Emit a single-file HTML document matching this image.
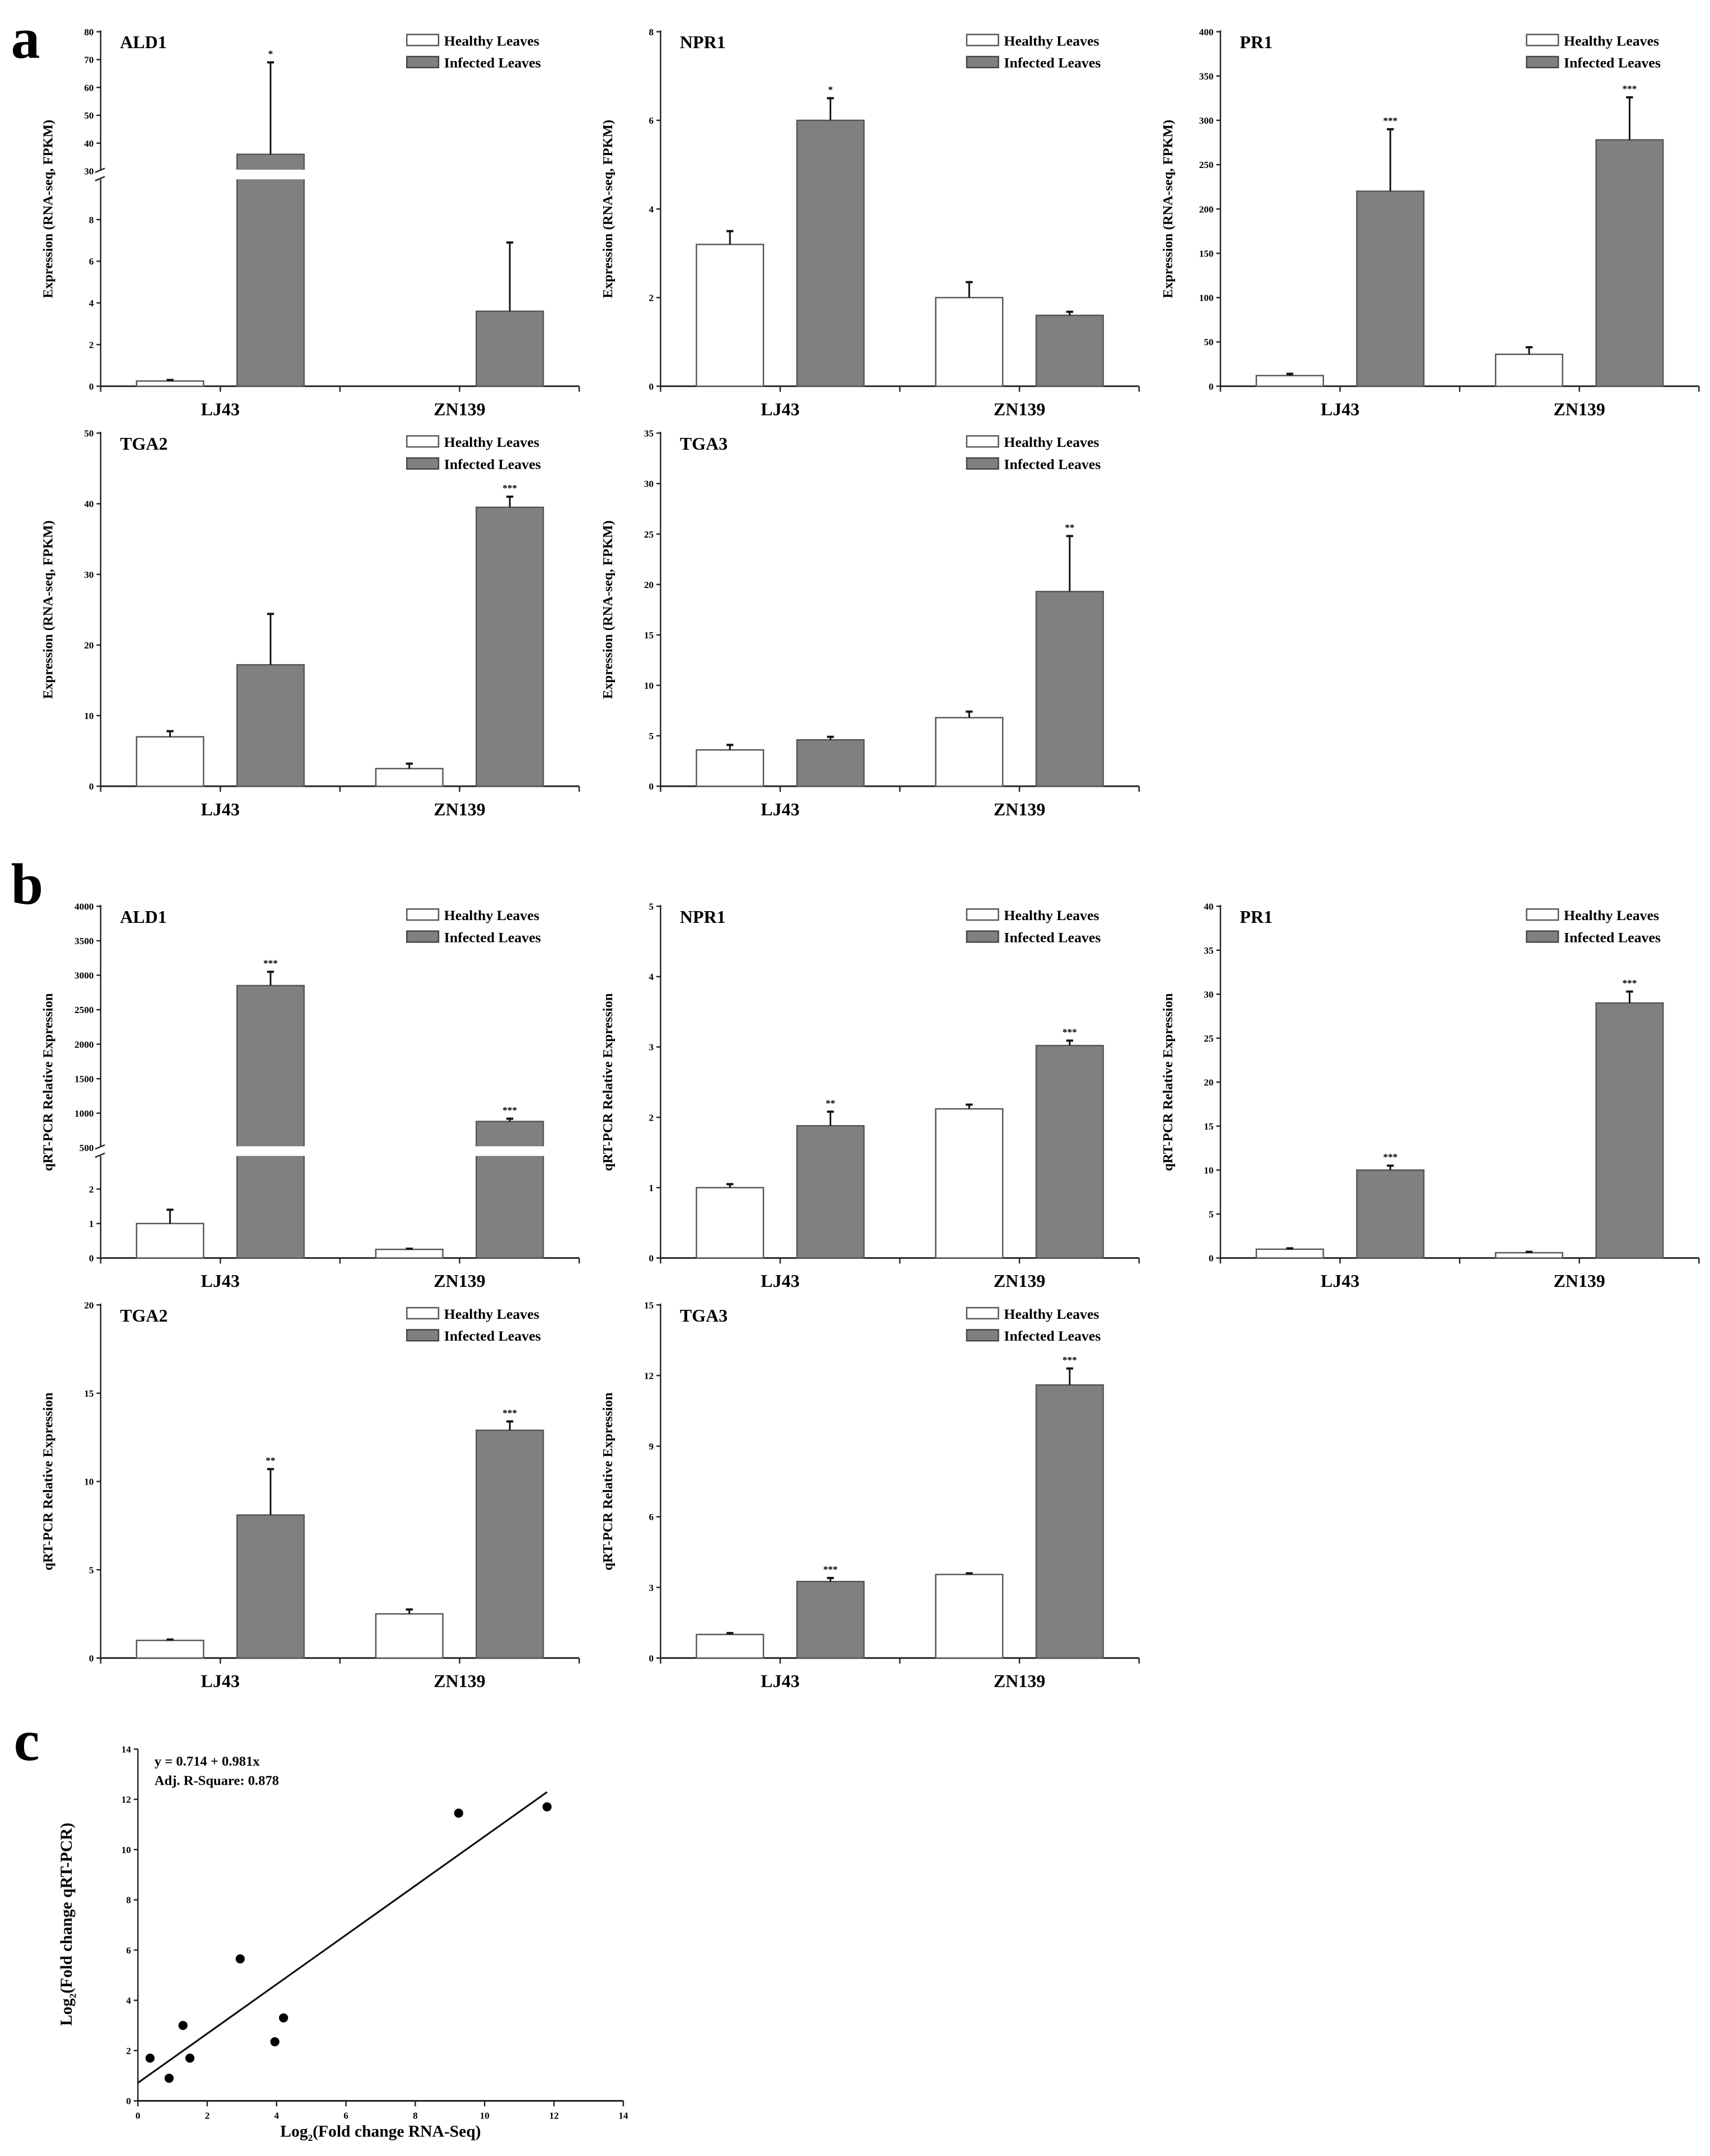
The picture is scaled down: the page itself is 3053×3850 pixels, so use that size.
<!DOCTYPE html>
<html><head><meta charset="utf-8"><style>
html,body{margin:0;padding:0;background:#fff;}
svg{display:block;font-family:"Liberation Serif",serif;font-weight:bold;}
</style></head><body>
<svg id="fig" xmlns="http://www.w3.org/2000/svg" width="3053" height="3850" viewBox="0 0 1240 1563" preserveAspectRatio="none">
<text x="8" y="42" font-size="42">a</text>
<text x="8" y="655" font-size="42">b</text>
<text x="10" y="1276" font-size="42">c</text>
</svg>
<script>
// ---- data ----
const categories = ["LJ43","ZN139"];
const seriesNames = ["Healthy Leaves","Infected Leaves"];
const genes = ["ALD1","NPR1","PR1","TGA2","TGA3"];
// RNA-seq (a)
const aHealthy = [[0.25,0],[3.2,2.0],[12,36],[7,2.5],[3.6,6.8]];
const aHealthyErr = [[0.05,0],[0.3,0.35],[2,8],[0.8,0.7],[0.5,0.6]];
const aInfected = [[36,3.6],[6.0,1.6],[220,278],[17.2,39.5],[4.6,19.3]];
const aInfectedErr = [[33,3.3],[0.5,0.08],[70,48],[7.2,1.5],[0.3,5.5]];
const aStars = [["*",""],["*",""],["***","***"],["","***"],["","**"]];
const aMax = [80,8,400,50,35];
const aStep = [10,2,50,10,5];
// qRT-PCR (b)
const bHealthy = [[1.0,0.25],[1.0,2.12],[1.0,0.6],[1.0,2.5],[1.0,3.55]];
const bHealthyErr = [[0.4,0.02],[0.05,0.06],[0.1,0.1],[0.05,0.25],[0.06,0.05]];
const bInfected = [[2850,880],[1.88,3.02],[10,29],[8.1,12.9],[3.25,11.6]];
const bInfectedErr = [[200,40],[0.2,0.07],[0.5,1.3],[2.6,0.5],[0.15,0.7]];
const bStars = [["***","***"],["**","***"],["***","***"],["**","***"],["***","***"]];
const bMax = [4000,5,40,20,15];
const bStep = [500,1,5,5,3];
// correlation (c)
const cX = [0.35,0.9,1.3,1.5,2.95,3.95,4.2,9.25,11.8];
const cY = [1.7,0.9,3.0,1.7,5.65,2.35,3.3,11.45,11.7];
const fitIntercept = 0.714, fitSlope = 0.981;
const cTicks = [0,2,4,6,8,10,12,14];

const NS="http://www.w3.org/2000/svg";
const svg=document.getElementById('fig');
function mk(tag,attrs,parent){const e=document.createElementNS(NS,tag);for(const k in attrs)e.setAttribute(k,attrs[k]);(parent||svg).appendChild(e);return e;}
function txt(x,y,s,size,attrs,parent){const t=mk('text',Object.assign({x:x,y:y,'font-size':size},attrs||{}),parent);t.textContent=s;return t;}

const W=347;
function panel(ax,top,zero,gene,gi,H,He,I,Ie,St,max,step,ylabel,brk){
  const g=mk('g',{});
  
  
  let y;
  if(brk){
    y=v=>v<=brk.lowMax? zero-(zero-brk.lowTop)*v/brk.lowMax : brk.upBot-(brk.upBot-top)*(v-brk.upMin)/(max-brk.upMin);
  } else y=v=>zero-(zero-top)*v/max;
  mk('line',{x1:ax,y1:top-1,x2:ax,y2:zero,stroke:'#222','stroke-width':1},g);
  mk('line',{x1:ax,y1:zero,x2:ax+W,y2:zero,stroke:'#222','stroke-width':1.2},g);
  [0,0.25,0.5,0.75,1].forEach(f=>mk('line',{x1:ax+W*f,y1:zero,x2:ax+W*f,y2:zero+4,stroke:'#222','stroke-width':1},g));
  let ticks=[];
  if(brk){for(let v=0;v<=brk.lowTickMax;v+=brk.lowStep)ticks.push(v);for(let v=brk.upMin;v<=max+1e-9;v+=step)ticks.push(v);}
  else for(let v=0;v<=max+1e-9;v+=step)ticks.push(v);
  ticks.forEach(v=>{const yy=y(v);mk('line',{x1:ax-3,y1:yy,x2:ax,y2:yy,stroke:'#222','stroke-width':1},g);
    const t=txt(ax-5,yy+2.5,String(v),7,{'text-anchor':'end'},g);
    });
  if(brk){
    mk('rect',{x:ax-3,y:brk.upBot-1,width:6,height:brk.lowTop-brk.upBot+2,fill:'#fff'},g);
    mk('line',{x1:ax-4,y1:brk.upBot+1,x2:ax+3,y2:brk.upBot-2,stroke:'#222'},g);
    mk('line',{x1:ax-4,y1:brk.lowTop+2,x2:ax+3,y2:brk.lowTop-1,stroke:'#222'},g);}
  const yl=txt(0,0,ylabel,10,{'text-anchor':'middle',transform:`translate(${ax-35},${(top+zero)/2}) rotate(-90)`},g);
  
  const tt=txt(ax+14,top+12,gene,13,{},g);
  
  categories.forEach((c,ci)=>{
    const cx=ax+W*(ci===0?0.25:0.75);
    [[H,He,'#fff',-0.105],[I,Ie,'#808080',0.105]].forEach((s,si)=>{
      const v=s[0][gi][ci], e=s[1][gi][ci];
      const bx=cx+W*s[3]-W*0.07, bw=W*0.14;
      if(v>0){const r=mk('rect',{x:bx,y:y(v),width:bw,height:zero-y(v),fill:s[2],stroke:'#555','stroke-width':1},g);
        
        
        if(brk && v>brk.lowMax) mk('rect',{x:bx-1,y:brk.upBot-1,width:bw+2,height:brk.lowTop-brk.upBot+2,fill:'#fff'},g);
        if(e>0){const mx=bx+bw/2;mk('line',{x1:mx,y1:y(v),x2:mx,y2:y(v+e),stroke:'#111','stroke-width':1.2},g);
          mk('line',{x1:mx-2.5,y1:y(v+e),x2:mx+2.5,y2:y(v+e),stroke:'#111','stroke-width':1.6},g);}
        if(si===1&&St[gi][ci]){const st=txt(bx+bw/2,y(v+e)-4,St[gi][ci],7,{'text-anchor':'middle'},g);
          }
      }
    });
    const xl=txt(cx,zero+21,c,13,{'text-anchor':'middle'},g);
    
  });
  const lg=mk('g',{},g);
  
  mk('rect',{x:ax+222,y:top+2,width:23,height:8,fill:'#fff',stroke:'#555'},lg);
  mk('rect',{x:ax+222,y:top+18,width:23,height:8,fill:'#808080',stroke:'#444'},lg);
  txt(ax+249,top+10,seriesNames[0],10.5,{},lg);
  txt(ax+249,top+26,seriesNames[1],10.5,{},lg);
}
const xs=[73,479,885,73,479];
const aRow=[[23,280],[23,280],[23,280],[314,570],[314,570]];
const bRow=[[657,912],[657,912],[657,912],[946,1202],[946,1202]];
genes.forEach((gname,gi)=>{
  panel(xs[gi],aRow[gi][0],aRow[gi][1],gname,gi,aHealthy,aHealthyErr,aInfected,aInfectedErr,aStars,aMax[gi],aStep[gi],'Expression (RNA-seq, FPKM)',
    gi===0?{lowMax:10,lowTop:129,upBot:124,upMin:30,lowTickMax:8,lowStep:2}:null);
  panel(xs[gi],bRow[gi][0],bRow[gi][1],gname,gi,bHealthy,bHealthyErr,bInfected,bInfectedErr,bStars,bMax[gi],bStep[gi],'qRT-PCR Relative Expression',
    gi===0?{lowMax:3,lowTop:837,upBot:832,upMin:500,lowTickMax:2,lowStep:1}:null);
});
const X0=100,X1=452,Y0=1523,Y1=1268;
const sx=v=>X0+(X1-X0)*v/14, sy=v=>Y0-(Y0-Y1)*v/14;
const cg=mk('g',{});


mk('line',{x1:X0,y1:Y1,x2:X0,y2:Y0,stroke:'#222'},cg);
mk('line',{x1:X0,y1:Y0,x2:X1,y2:Y0,stroke:'#222','stroke-width':1.2},cg);
cTicks.forEach(v=>{
  mk('line',{x1:sx(v),y1:Y0,x2:sx(v),y2:Y0+4,stroke:'#222'},cg);
  txt(sx(v),Y0+13,String(v),7,{'text-anchor':'middle'},cg);
  mk('line',{x1:X0-3,y1:sy(v),x2:X0,y2:sy(v),stroke:'#222'},cg);
  txt(X0-5,sy(v)+2.5,String(v),7,{'text-anchor':'end'},cg);
});
const xMaxFit=Math.max(...cX);
const fl=mk('line',{x1:sx(0),y1:sy(fitIntercept),x2:sx(xMaxFit),y2:sy(fitIntercept+fitSlope*xMaxFit),stroke:'#111','stroke-width':1.3},cg);


cX.forEach((v,i)=>{const p=mk('circle',{cx:sx(v),cy:sy(cY[i]),r:3.3,fill:'#000'},cg);
  
  });
txt(112,1280,'y = 0.714 + 0.981x',10,{},cg);
txt(112,1294,'Adj. R-Square: 0.878',10,{},cg);
const cxl=txt(276,1549,'',12,{'text-anchor':'middle'},cg);
cxl.innerHTML='Log<tspan font-size="7" dy="3">2</tspan><tspan dy="-3">(Fold change RNA-Seq)</tspan>';


const cyl=txt(0,0,'',12,{'text-anchor':'middle',transform:'translate(52,1395) rotate(-90)'},cg);
cyl.innerHTML='Log<tspan font-size="7" dy="3">2</tspan><tspan dy="-3">(Fold change qRT-PCR)</tspan>';


</script>
</body></html>
